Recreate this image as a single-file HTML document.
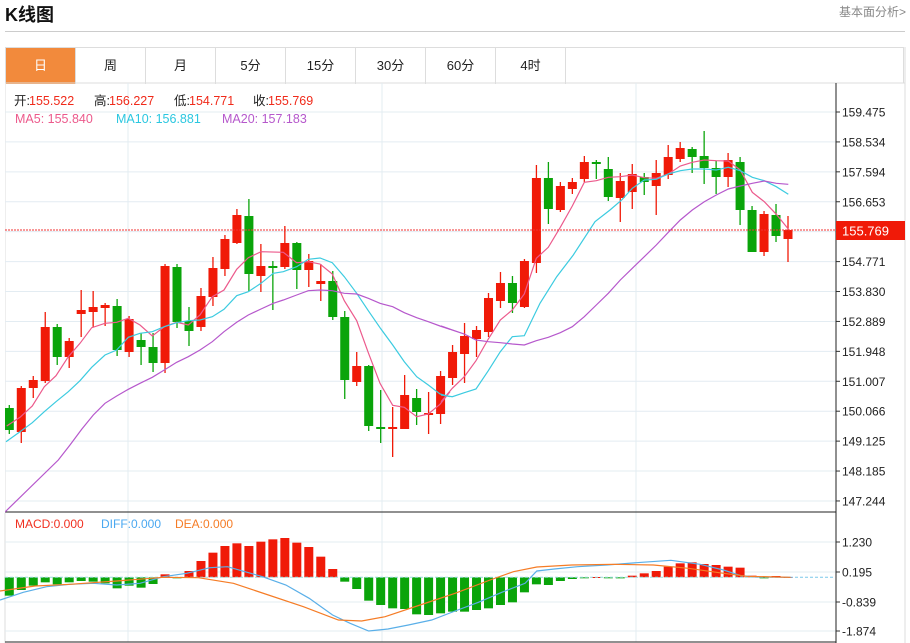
<!DOCTYPE html>
<html><head><meta charset="utf-8"><style>
body{margin:0;width:910px;height:643px;background:#fff;overflow:hidden;font-family:"Liberation Sans","Noto Sans CJK SC",sans-serif;position:relative}
.t{position:absolute;left:5px;top:1px;font-size:18px;font-weight:bold;color:#111}
.r{position:absolute;right:4px;top:3px;font-size:12px;color:#888}
.sep{position:absolute;left:5px;top:31px;width:900px;height:1px;background:#ccc}
.tabs{position:absolute;left:5px;top:47px;height:36px;width:899px;border:1px solid #ddd;border-bottom:none;box-sizing:border-box}
.tab{position:absolute;top:0;height:36px;width:70px;border-right:1px solid #ddd;box-sizing:border-box;text-align:center;line-height:36px;font-size:13px;color:#222}
svg{position:absolute;left:0;top:0}
</style></head><body>
<div class="t">K线图</div><div class="r">基本面分析&gt;</div><div class="sep"></div>
<div class="tabs">
<div class="tab" style="left:0;background:#f28a3c;color:#fff">日</div>
<div class="tab" style="left:70px">周</div><div class="tab" style="left:140px">月</div>
<div class="tab" style="left:210px">5分</div><div class="tab" style="left:280px">15分</div>
<div class="tab" style="left:350px">30分</div><div class="tab" style="left:420px">60分</div>
<div class="tab" style="left:490px">4时</div>
</div>
<svg id="s" width="910" height="643" font-family="Liberation Sans, Noto Sans CJK SC, sans-serif"></svg>
<script>
var o='';
function L(x1,y1,x2,y2,c,w,d){o+='<line x1="'+x1+'" y1="'+y1+'" x2="'+x2+'" y2="'+y2+'" stroke="'+c+'" stroke-width="'+(w||1)+'"'+(d?' stroke-dasharray="'+d+'"':'')+'/>';}
function T(x,y,s,c,sz){o+='<text x="'+x+'" y="'+y+'" fill="'+c+'" font-size="'+(sz||12)+'">'+s+'</text>';}
L(5,83,905,83,'#ddd');L(905,47,905,643,'#ddd');L(5,83,5,643,'#ddd');
var labs=['159.475','158.534','157.594','156.653','','154.771','153.830','152.889','151.948','151.007','150.066','149.125','148.185','147.244'];
for(var k=0;k<14;k++){var y=112+k*29.92;L(5,y,836,y,'#e3ecf2');L(836,y,840,y,'#333');if(labs[k])T(842,y+4.5,labs[k],'#222',12);}
[542,572,602,631].forEach(function(y,i){L(5,y,836,y,'#e3ecf2');L(836,y,840,y,'#333');T(842,y+4.5,['1.230','0.195','-0.839','-1.874'][i],'#222',12);});
[128,382,636].forEach(function(x){L(x,83,x,642,'#e3ecf2');});
L(836,83,836,643,'#222');L(5,512,836,512,'#222');L(5,642,836,642,'#222');
var C=[[408,430,405,434,'g'],[388,432,386,443,'r'],[380,388,376,398,'r'],[327,381,312,383,'r'],[327,357,324,365,'g'],[341,357,338,368,'r'],[310,314,290,337,'r'],[307,312,291,327,'r'],[305,308,303,326,'r'],[306,350,299,356,'g'],[319,352,316,357,'r'],[340,347,333,365,'g'],[347,363,333,372,'g'],[266,363,264,373,'r'],[267,322,264,328,'g'],[321,331,307,346,'g'],[296,327,288,331,'r'],[268,297,257,306,'r'],[239,269,235,276,'r'],[215,243,209,244,'r'],[216,274,199,291,'g'],[266,276,244,292,'r'],[266,268,261,310,'g'],[243,267,226,269,'r'],[243,270,242,289,'g'],[261,270,254,287,'r'],[281,284,264,301,'r'],[281,317,271,320,'g'],[317,380,311,399,'g'],[366,382,352,386,'r'],[366,426,365,431,'g'],[427,429,390,443,'g'],[427,429,407,457,'r'],[395,429,375,429,'r'],[398,412,389,425,'g'],[413,415,392,434,'r'],[376,414,371,424,'r'],[352,378,345,385,'r'],[336,354,323,383,'r'],[330,339,326,357,'r'],[298,332,293,337,'r'],[283,301,272,308,'r'],[283,303,276,313,'g'],[261,307,259,308,'r'],[178,263,165,273,'r'],[178,209,162,224,'g'],[186,210,182,212,'r'],[182,189,178,194,'r'],[162,179,156,182,'r'],[162,164,160,179,'g'],[169,197,157,201,'g'],[181,198,173,222,'r'],[174,192,164,209,'r'],[177,182,173,195,'g'],[173,186,160,215,'r'],[157,175,145,179,'r'],[148,159,142,162,'r'],[149,157,147,173,'g'],[156,168,131,184,'g'],[168,177,161,194,'g'],[160,177,153,187,'r'],[162,210,157,225,'g'],[210,252,206,252,'g'],[214,252,211,256,'r'],[215,236,204,242,'g'],[230,239,216,262,'r']];
var RC='#f01a08',GC='#0aa40a';
C.forEach(function(c,i){var x=9.3+i*11.98,col=c[4]=='r'?RC:GC;L(x,c[2],x,c[3],col,1.3);o+='<rect x="'+(x-4.5)+'" y="'+c[0]+'" width="9" height="'+Math.max(1.5,c[1]-c[0])+'" fill="'+col+'"/>';});
function P(pts,col,w,zx,zy,sx,sy){var s=pts.map(function(p){return ((zx+p[0]/sx).toFixed(1))+','+((zy+p[1]/sy).toFixed(1));}).join(' ');o+='<polyline points="'+s+'" fill="none" stroke="'+col+'" stroke-width="'+(w||1.2)+'"/>';}
function P2(a,b,col){P(a,col,1.2,0,130,3,3);P(b,col,1.2,440,130,3,3);}
P2([[20,888],[60,862],[97,828],[133,770],[168,737],[205,680],[240,640],[275,593],[315,580],[350,577],[385,565],[420,585],[457,618],[493,590],[530,577],[565,585],[600,555],[637,500],[672,480],[710,418],[745,383],[783,365],[850,367],[890,398],[925,395],[960,402],[997,432],[1033,512],[1070,572],[1105,668],[1140,760],[1178,826],[1213,832],[1250,860],[1285,852],[1320,823],[1350,785]],
[[3,815],[37,775],[73,740],[108,692],[145,627],[181,570],[217,540],[253,492],[289,385],[325,352],[361,292],[397,228],[433,157],[469,152],[505,142],[541,140],[577,135],[613,143],[649,145],[685,132],[721,108],[757,97],[793,90],[829,92],[865,93],[901,120],[937,187],[973,215],[1009,253],[1045,297]],'#ec5a8c');
P2([[18,935],[60,905],[97,878],[133,845],[168,815],[205,785],[240,752],[275,712],[315,675],[350,660],[385,622],[420,610],[457,605],[493,590],[530,578],[565,572],[600,570],[637,560],[672,538],[710,497],[745,485],[783,460],[820,430],[850,425],[890,410],[925,388],[960,384],[997,398],[1033,440],[1070,490],[1105,542],[1140,593],[1178,645],[1213,695],[1250,740],[1285,765],[1320,792],[1350,800]],
[[3,795],[37,800],[73,788],[108,777],[145,722],[181,665],[217,620],[253,617],[300,520],[350,440],[400,375],[465,275],[510,240],[545,210],[577,175],[613,150],[649,148],[685,132],[721,122],[757,117],[793,117],[829,120],[865,112],[901,122],[937,142],[973,152],[1009,170],[1045,193]],'#3ccbe0');
P2([[15,1146],[175,990],[210,945],[245,898],[280,855],[315,820],[350,798],[385,778],[420,760],[457,742],[493,720],[530,697],[565,680],[600,660],[637,635],[672,605],[710,577],[745,555],[783,537],[820,520],[850,510],[890,495],[925,482],[960,480],[997,482],[1033,490],[1070,492],[1105,505],[1140,520],[1178,530],[1213,548],[1250,563],[1285,575],[1320,588],[1350,598]],
[[3,588],[37,600],[73,612],[108,630],[145,635],[181,638],[217,642],[253,645],[289,632],[325,622],[361,608],[397,590],[433,560],[469,525],[505,490],[541,450],[577,415],[613,380],[649,345],[685,307],[721,270],[757,240],[793,215],[829,195],[865,177],[901,168],[937,160],[973,153],[1009,160],[1045,163]],'#b658cc');
o+='<rect x="0" y="83" width="5" height="430" fill="#fff"/>';
L(5,230,836,230,'#f03030',1,'2,1');
o+='<rect x="836" y="221" width="69" height="19" fill="#f01a08"/>';T(842,235.5,'155.769','#fff',13);
var B=[272,255,242,232,238,232,228,230,235,250,242,248,237,208,219,198,168,143,123,115,123,110,103,99,113,126,155,192,230,252,287,300,310,312,328,330,325,320,320,315,310,300,292,262,238,240,228,222,218,216,219,220,212,205,198,185,175,172,177,180,185,188,212,220,213,216];
B.forEach(function(b,i){var x=9.3+i*11.98,y=505+b/3,z=577.3,col=y<z?RC:GC;o+='<rect x="'+(x-4.5)+'" y="'+Math.min(y,z)+'" width="9" height="'+Math.max(1,Math.abs(y-z))+'" fill="'+col+'"/>';});
L(5,577.3,790,577.3,'#9dd',1,'3,2');L(790,577.3,834,577.3,'#7cc8ea',1,'3,2');
var sx=1.714;
P([[0,285],[40,262],[80,245],[120,238],[160,235],[200,240],[240,235],[280,215],[320,205],[360,188],[390,185],[420,200],[450,215],[490,240],[530,280],[570,330],[600,355],[632,378],[665,372],[700,360],[740,345],[780,318],[820,292],[860,262],[900,235],[920,198],[950,192],[990,185],[1040,180],[1100,172],[1150,166],[1200,178],[1240,195],[1270,212],[1300,216],[1355,217]],'#5aafe8',1.2,0,505,sx,3);
P([[0,258],[60,243],[120,238],[200,228],[280,217],[340,218],[400,235],[460,270],[520,305],[580,345],[620,348],[660,335],[720,300],[780,265],[840,225],[880,200],[920,186],[980,180],[1050,178],[1120,180],[1180,190],[1240,205],[1280,214],[1355,217]],'#f57c26',1.2,0,505,sx,3);
function KV(x,k,v){T(x,105,k,'#222',12.5);T(x+15,105,v,'#f02a1a',12.5);}
KV(14,'开:','155.522');KV(94,'高:','156.227');KV(174,'低:','154.771');KV(253,'收:','155.769');
T(15,123,'MA5: 155.840','#ec5a8c',12.5);T(116,123,'MA10: 156.881','#2bc7e0',12.5);T(222,123,'MA20: 157.183','#b658cc',12.5);
T(15,528,'MACD:0.000','#f03020',12);T(101,528,'DIFF:0.000','#4aa8f0',12);T(175,528,'DEA:0.000','#f57c26',12);
document.getElementById('s').innerHTML=o;
</script>
</body></html>
